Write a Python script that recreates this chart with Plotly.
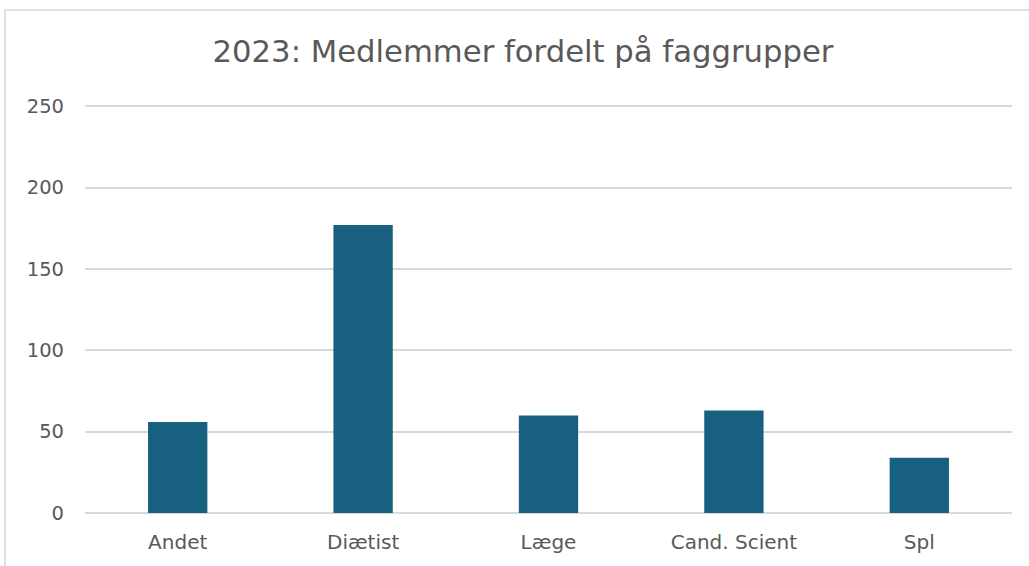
import plotly.graph_objects as go

categories = ["Andet", "Diætist", "Læge", "Cand. Scient", "Spl"]
values = [56, 177, 60, 63, 34]
y_ticks = [0, 50, 100, 150, 200, 250]

W, H = 1029, 566
L, R, T, B = 85, 17, 105, 53
pw, ph = W - L - R, H - T - B

fig = go.Figure(go.Bar(
    x=categories, y=values,
    marker=dict(color="#17607f", line=dict(width=0)),
    hoverinfo="x+y",
))

font_family = "DejaVu Sans, sans-serif"
fig.update_layout(
    width=W, height=H,
    margin=dict(l=L, r=R, t=T, b=B),
    paper_bgcolor="white", plot_bgcolor="white",
    bargap=0.68,
    showlegend=False,
    title=dict(
        text="2023: Medlemmer fordelt på faggrupper",
        x=523 / W, xref="container", xanchor="center",
        y=1 - 51 / H, yref="container", yanchor="middle",
        font=dict(family=font_family, size=30.7, color="#595959"),
    ),
    font=dict(family=font_family, color="#595959"),
    shapes=[dict(
        type="rect", xref="paper", yref="paper",
        x0=(5 - L) / pw, x1=(W + 10 - L) / pw,
        y0=-(H + 10 - (T + ph)) / ph, y1=(T + ph - 10) / ph,
        line=dict(color="#d9d9d9", width=1.5), fillcolor="rgba(0,0,0,0)",
        layer="below",
    )],
)
fig.update_yaxes(
    range=[0, 250.8], tickvals=y_ticks,
    showgrid=True, gridcolor="#d9d9d9", gridwidth=1.5,
    zeroline=True, zerolinecolor="#d9d9d9", zerolinewidth=1.5,
    showline=False, ticks="",
    tickfont=dict(size=19.5, color="#595959"),
    ticklabelstandoff=20,
)
fig.update_xaxes(
    showgrid=False, showline=False, ticks="",
    tickfont=dict(size=20, color="#595959"),
    ticklabelstandoff=15,
)

fig.write_html("out.html", post_script="document.body.style.margin='0';",
               config={"displayModeBar": False})
